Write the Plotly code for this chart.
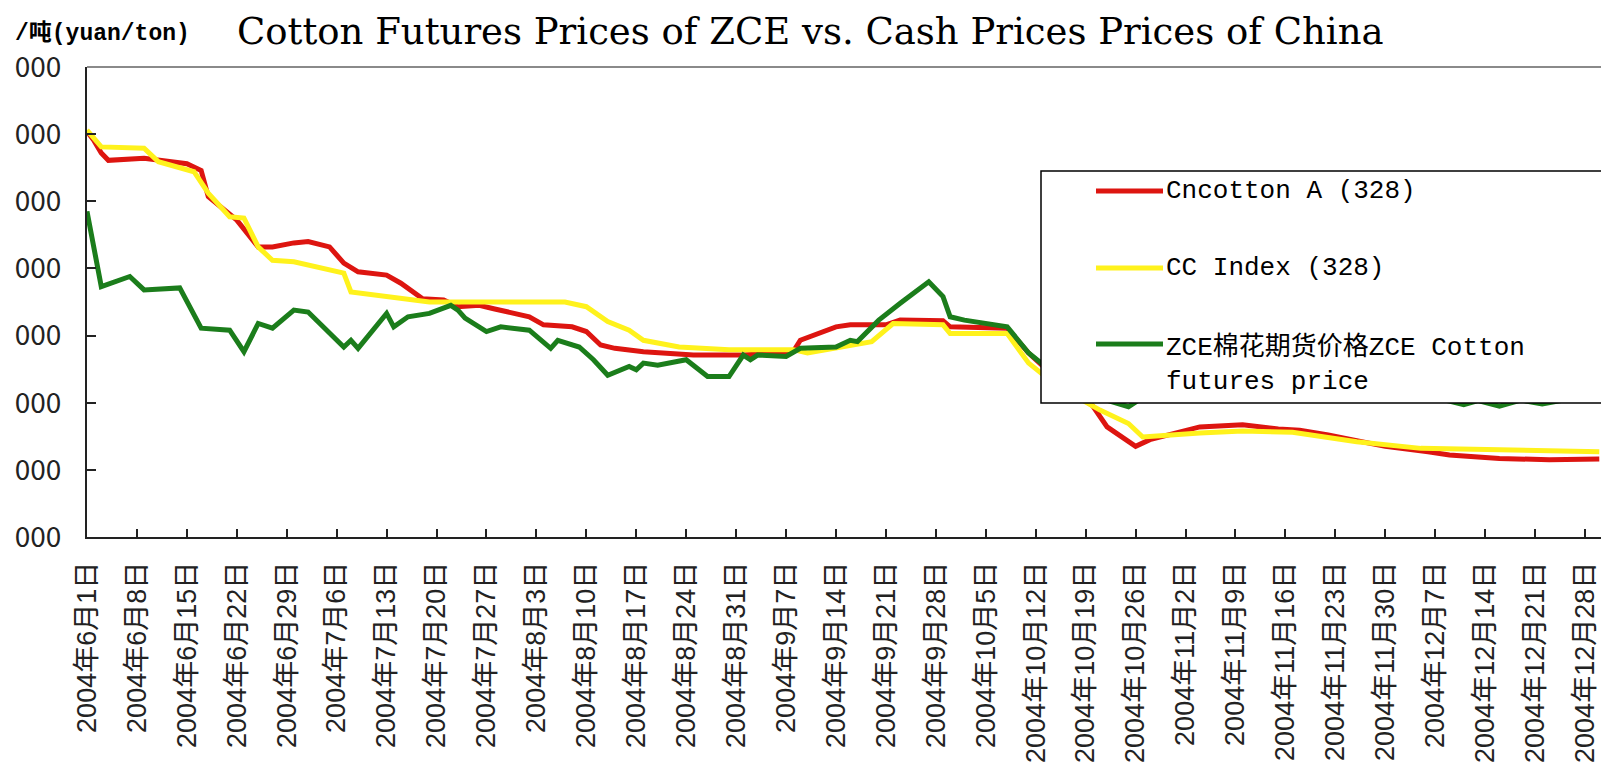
import plotly.graph_objects as go

# ---------------- data ----------------
red_name = "Cncotton A (328)"
red_dates = ["2004-06-01", "2004-06-02", "2004-06-03", "2004-06-04", "2004-06-09", "2004-06-15",
             "2004-06-17", "2004-06-18", "2004-06-22", "2004-06-25", "2004-06-27", "2004-06-30",
             "2004-07-02", "2004-07-05", "2004-07-07", "2004-07-09", "2004-07-13", "2004-07-15",
             "2004-07-18", "2004-07-21", "2004-07-23", "2004-07-26", "2004-07-28", "2004-08-02",
             "2004-08-04", "2004-08-08", "2004-08-10", "2004-08-12", "2004-08-14", "2004-08-18",
             "2004-08-25", "2004-09-01", "2004-09-08", "2004-09-09", "2004-09-14", "2004-09-16",
             "2004-09-21", "2004-09-23", "2004-09-29", "2004-09-30", "2004-10-08", "2004-10-11",
             "2004-10-14", "2004-10-18", "2004-10-20", "2004-10-22", "2004-10-26", "2004-10-28",
             "2004-11-04", "2004-11-10", "2004-11-15", "2004-11-18", "2004-11-22", "2004-11-30",
             "2004-12-06", "2004-12-09", "2004-12-16", "2004-12-23", "2004-12-30"]
red_values = [17040, 16900, 16720, 16610, 16640, 16560,
              16460, 16070, 15720, 15320, 15320, 15380,
              15400, 15320, 15080, 14950, 14900, 14780,
              14550, 14530, 14430, 14450, 14400, 14280,
              14160, 14130, 14060, 13860, 13810, 13760,
              13710, 13710, 13760, 13930, 14130, 14160,
              14160, 14230, 14220, 14130, 14110, 13740,
              13450, 13100, 12950, 12640, 12350, 12450,
              12640, 12670, 12610, 12590, 12520, 12350,
              12270, 12220, 12170, 12150, 12160]

yellow_name = "CC Index (328)"
yellow_dates = ["2004-06-01", "2004-06-03", "2004-06-09", "2004-06-11", "2004-06-16", "2004-06-18",
                "2004-06-21", "2004-06-23", "2004-06-25", "2004-06-27", "2004-06-30", "2004-07-07",
                "2004-07-08", "2004-07-15", "2004-07-19", "2004-07-28", "2004-08-07", "2004-08-10",
                "2004-08-13", "2004-08-16", "2004-08-18", "2004-08-23", "2004-08-30", "2004-09-08",
                "2004-09-10", "2004-09-19", "2004-09-21", "2004-09-22", "2004-09-29", "2004-09-30",
                "2004-10-08", "2004-10-11", "2004-10-15", "2004-10-21", "2004-10-25", "2004-10-27",
                "2004-11-04", "2004-11-10", "2004-11-17", "2004-11-26", "2004-12-05", "2004-12-15",
                "2004-12-23", "2004-12-30"]
yellow_values = [17060, 16810, 16790, 16590, 16440, 16120,
                 15770, 15750, 15320, 15120, 15100, 14930,
                 14650, 14550, 14500, 14500, 14500, 14430,
                 14210, 14080, 13930, 13830, 13790, 13790,
                 13740, 13910, 14080, 14180, 14160, 14030,
                 14030, 13590, 13250, 12890, 12690, 12490,
                 12550, 12580, 12560, 12420, 12320, 12300,
                 12270, 12270]

green_name = "ZCE棉花期货价格ZCE Cotton<br>futures price"
green_dates = ["2004-06-01", "2004-06-02", "2004-06-03", "2004-06-07", "2004-06-09", "2004-06-14",
               "2004-06-17", "2004-06-21", "2004-06-23", "2004-06-25", "2004-06-27", "2004-06-30",
               "2004-07-02", "2004-07-07", "2004-07-08", "2004-07-09", "2004-07-13", "2004-07-14",
               "2004-07-16", "2004-07-19", "2004-07-22", "2004-07-23", "2004-07-24", "2004-07-27",
               "2004-07-29", "2004-08-02", "2004-08-05", "2004-08-06", "2004-08-09", "2004-08-11",
               "2004-08-13", "2004-08-16", "2004-08-17", "2004-08-18", "2004-08-20", "2004-08-24",
               "2004-08-27", "2004-08-30", "2004-09-01", "2004-09-02", "2004-09-03", "2004-09-07",
               "2004-09-09", "2004-09-14", "2004-09-16", "2004-09-17", "2004-09-20", "2004-09-23",
               "2004-09-27", "2004-09-29", "2004-09-30", "2004-10-02", "2004-10-08", "2004-10-11",
               "2004-10-15", "2004-10-20", "2004-10-25", "2004-10-28", "2004-11-03", "2004-11-10",
               "2004-11-17", "2004-11-24", "2004-12-01", "2004-12-08", "2004-12-11", "2004-12-13",
               "2004-12-16", "2004-12-19", "2004-12-22", "2004-12-25", "2004-12-30"]
green_values = [15850, 15300, 14730, 14880, 14680, 14710,
                14110, 14080, 13760, 14180, 14110, 14380,
                14350, 13830, 13930, 13810, 14330, 14130,
                14280, 14330, 14450, 14380, 14260, 14060,
                14130, 14080, 13810, 13930, 13830, 13640,
                13410, 13540, 13490, 13590, 13560, 13640,
                13390, 13390, 13710, 13640, 13710, 13690,
                13810, 13830, 13930, 13910, 14230, 14480,
                14800, 14580, 14280, 14230, 14130, 13740,
                13400, 13100, 12940, 13150, 13350, 13300,
                13250, 13200, 13150, 13050, 12970, 13030,
                12950, 13040, 12980, 13040, 13050]

tick_dates = ["2004-06-01", "2004-06-08", "2004-06-15", "2004-06-22", "2004-06-29", "2004-07-06",
              "2004-07-13", "2004-07-20", "2004-07-27", "2004-08-03", "2004-08-10", "2004-08-17",
              "2004-08-24", "2004-08-31", "2004-09-07", "2004-09-14", "2004-09-21", "2004-09-28",
              "2004-10-05", "2004-10-12", "2004-10-19", "2004-10-26", "2004-11-02", "2004-11-09",
              "2004-11-16", "2004-11-23", "2004-11-30", "2004-12-07", "2004-12-14", "2004-12-21",
              "2004-12-28"]
tick_labels = ["2004年6月1日", "2004年6月8日", "2004年6月15日", "2004年6月22日", "2004年6月29日",
               "2004年7月6日", "2004年7月13日", "2004年7月20日", "2004年7月27日", "2004年8月3日",
               "2004年8月10日", "2004年8月17日", "2004年8月24日", "2004年8月31日", "2004年9月7日",
               "2004年9月14日", "2004年9月21日", "2004年9月28日", "2004年10月5日", "2004年10月12日",
               "2004年10月19日", "2004年10月26日", "2004年11月2日", "2004年11月9日", "2004年11月16日",
               "2004年11月23日", "2004年11月30日", "2004年12月7日", "2004年12月14日", "2004年12月21日",
               "2004年12月28日"]
y_ticks = [11000, 12000, 13000, 14000, 15000, 16000, 17000, 18000]
# the left part of each y label is cropped away in the source picture: only "000" is visible
y_tick_labels = ["000", "000", "000", "000", "000", "000", "000", "000"]

title_text = "Cotton Futures Prices of ZCE vs. Cash Prices Prices of China"
unit_text = "/吨(yuan/ton)"

# ---------------- layout helpers ----------------
OFF = 8                      # default page margin around the plot div
W, H = 1609 - 2 * OFF, 779 - 2 * OFF
L, T, BOT = 87 - OFF, 67 - OFF, 537 - OFF
PW, PH = W - L, BOT - T


def px(page_x):
    return (page_x - OFF - L) / PW


def py(page_y):
    return (BOT - (page_y - OFF)) / PH


RED, YELLOW, GREEN = "#DD1510", "#FFF21C", "#1B7D1B"
series = [(red_name, red_dates, red_values, RED),
          (yellow_name, yellow_dates, yellow_values, YELLOW),
          (green_name, green_dates, green_values, GREEN)]

fig = go.Figure()
for name, d, v, c in series:
    fig.add_trace(go.Scatter(x=d, y=v, mode="lines", name=name, showlegend=False,
                             line=dict(color=c, width=5)))

AX = "#222222"
fig.update_layout(
    width=W, height=H,
    margin=dict(l=L, r=0, t=T, b=H - BOT, pad=0),
    paper_bgcolor="white", plot_bgcolor="white",
    showlegend=False,
    xaxis=dict(type="date", range=["2004-06-01", "2004-12-30 05:45"],
               tickmode="array", tickvals=tick_dates, ticktext=tick_labels,
               tickangle=-90, ticks="inside", ticklen=8, tickwidth=2, tickcolor=AX,
               showline=True, linecolor=AX, linewidth=2, showgrid=False, zeroline=False,
               automargin=False, ticklabelstandoff=12, ticklabeloverflow="allow",
               tickfont=dict(family="Liberation Sans, Noto Sans CJK SC", size=27, color="#222")),
    yaxis=dict(range=[11000, 18000], tickmode="array", tickvals=y_ticks, ticktext=y_tick_labels,
               ticks="inside", ticklen=9, tickwidth=2, tickcolor=AX,
               showline=True, linecolor=AX, linewidth=2, showgrid=False, zeroline=False,
               automargin=False, ticklabelstandoff=18,
               tickfont=dict(family="Noto Sans CJK SC", size=28, color="#222")),
)

shapes = [
    dict(type="line", xref="paper", yref="paper", x0=0, x1=1.05, y0=1, y1=1,
         line=dict(color="#8a8a8a", width=2), layer="above"),
    dict(type="rect", xref="paper", yref="paper", x0=px(1041), x1=1.05, y0=py(403), y1=py(171),
         fillcolor="white", line=dict(color="black", width=1.5), layer="above"),
]
legend_rows = [(RED, 191), (YELLOW, 268), (GREEN, 344)]
for c, yp in legend_rows:
    shapes.append(dict(type="line", xref="paper", yref="paper", x0=px(1096), x1=px(1163),
                       y0=py(yp), y1=py(yp), line=dict(color=c, width=5), layer="above"))
fig.update_layout(shapes=shapes)

LEG_FONT = dict(family="Liberation Mono, Noto Sans CJK SC", size=26, color="black")
fig.add_annotation(x=px(1164), y=py(191), xref="paper", yref="paper", text=red_name,
                   showarrow=False, xanchor="left", yanchor="middle", font=LEG_FONT)
fig.add_annotation(x=px(1164), y=py(268), xref="paper", yref="paper", text=yellow_name,
                   showarrow=False, xanchor="left", yanchor="middle", font=LEG_FONT)
fig.add_annotation(x=px(1164), y=py(364), xref="paper", yref="paper", text=green_name,
                   showarrow=False, xanchor="left", yanchor="middle", align="left", font=LEG_FONT)

fig.add_annotation(x=px(810), y=py(OFF), xref="paper", yref="paper", text=title_text,
                   showarrow=False, xanchor="center", yanchor="top",
                   font=dict(family="DejaVu Serif", size=37, color="black"))
fig.add_annotation(x=px(13), y=py(33), xref="paper", yref="paper", text="<b>" + unit_text + "</b>",
                   showarrow=False, xanchor="left", yanchor="middle",
                   font=dict(family="Liberation Mono, Noto Sans CJK SC", size=23, color="black"))

fig.write_html("out.html")
